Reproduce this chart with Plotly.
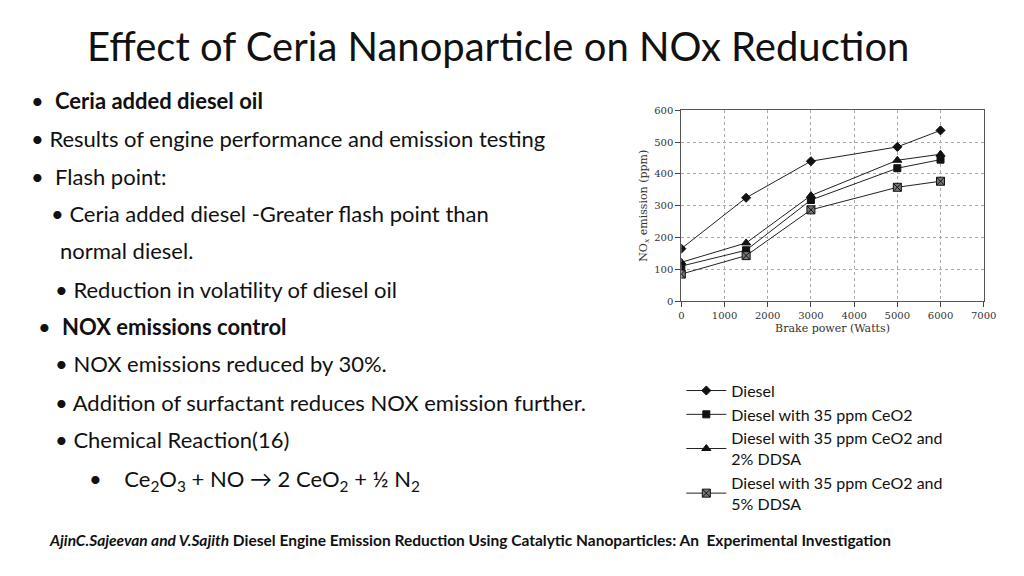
import plotly.graph_objects as go

power = [0, 1500, 3000, 5000, 6000]
diesel = [165, 325, 440, 485, 537]
ceo2 = [110, 160, 318, 418, 445]
ceo2_ddsa2 = [122, 183, 332, 443, 462]
ceo2_ddsa5 = [85, 143, 287, 358, 377]

series = [
    ("Diesel", diesel, "diamond", 7),
    ("Diesel with 35 ppm CeO2", ceo2, "square", 7),
    ("Diesel with 35 ppm CeO2 and<br>2% DDSA", ceo2_ddsa2, "triangle-up", 8),
    ("Diesel with 35 ppm CeO2 and<br>5% DDSA", ceo2_ddsa5, "square-x", 8),
]

fig = go.Figure()
for name, vals, sym, sz in series:
    fig.add_trace(go.Scatter(
        x=power, y=vals, name=name, mode="lines+markers",
        line=dict(color="#222", width=1),
        marker=dict(symbol=sym, size=sz, color="#111" if sym != "square-x" else "#777",
                    line=dict(color="#111", width=1)),
    ))

F = "Lato"
OFF = 11  # rendering offset correction


def py(y):
    return 1 - (y - OFF) / 576


texts = [
    (0.018, 100, "•  <b>Ceria added diesel oil</b>"),
    (0.018, 139, "• Results of engine performance and emission testing"),
    (0.018, 177, "•  Flash point:"),
    (0.038, 215, "• Ceria added diesel -Greater flash point than"),
    (0.047, 253, "normal diesel."),
    (0.042, 292, "• Reduction in volatility of diesel oil"),
    (0.025, 330, "•  <b>NOX emissions control</b>"),
    (0.042, 368, "• NOX emissions reduced by 30%."),
    (0.042, 407, "• Addition of surfactant reduces NOX emission further."),
    (0.042, 445, "• Chemical Reaction(16)"),
    (0.075, 486, "•    Ce<sub>2</sub>O<sub>3</sub> + NO → 2 CeO<sub>2</sub> + ½ N<sub>2</sub>"),
]
anns = [dict(x=x, y=py(y), xref="paper", yref="paper", text=t, showarrow=False,
             xanchor="left", yanchor="middle", font=dict(family=F, size=22, color="#111"))
        for x, y, t in texts]
anns.append(dict(x=0.483, y=py(45), xref="paper", yref="paper", showarrow=False,
                 xanchor="center", yanchor="middle",
                 text="Effect of Ceria Nanoparticle on NOx Reduction",
                 font=dict(family=F, size=40, color="#111")))
anns.append(dict(x=0.036, y=py(547), xref="paper", yref="paper", showarrow=False,
                 xanchor="left", yanchor="middle",
                 text="<b><i>AjinC.Sajeevan and V.Sajith</i> Diesel Engine Emission Reduction Using Catalytic Nanoparticles: An  Experimental Investigation</b>",
                 font=dict(family=F, size=15.5, color="#111")))

fig.update_layout(
    width=1024, height=576, margin=dict(l=0, r=0, t=0, b=0),
    plot_bgcolor="white", paper_bgcolor="white",
    annotations=anns,
    legend=dict(x=0.665, y=py(378), xanchor="left", yanchor="top",
                font=dict(family=F, size=16, color="#111"), tracegroupgap=0,
                itemwidth=40),
    xaxis=dict(domain=[0.665, 0.965], range=[0, 7000], dtick=1000,
               showgrid=True, gridcolor="#aaa", griddash="dot", zeroline=False,
               showline=True, linecolor="#555", mirror=True, ticks="outside",
               tickfont=dict(family="DejaVu Serif", size=10, color="#333"),
               title=dict(text="Brake power (Watts)", standoff=4,
                          font=dict(family="DejaVu Serif", size=11, color="#333"))),
    yaxis=dict(domain=[0.491, 0.828], range=[0, 600], dtick=100,
               showgrid=True, gridcolor="#aaa", griddash="dot", zeroline=False,
               showline=True, linecolor="#555", mirror=True, ticks="outside",
               tickfont=dict(family="DejaVu Serif", size=10, color="#333"),
               title=dict(text="NO<sub><i>x</i></sub> emission (ppm)", standoff=4,
                          font=dict(family="DejaVu Serif", size=11, color="#333"))),
)
fig.write_html("out.html")
